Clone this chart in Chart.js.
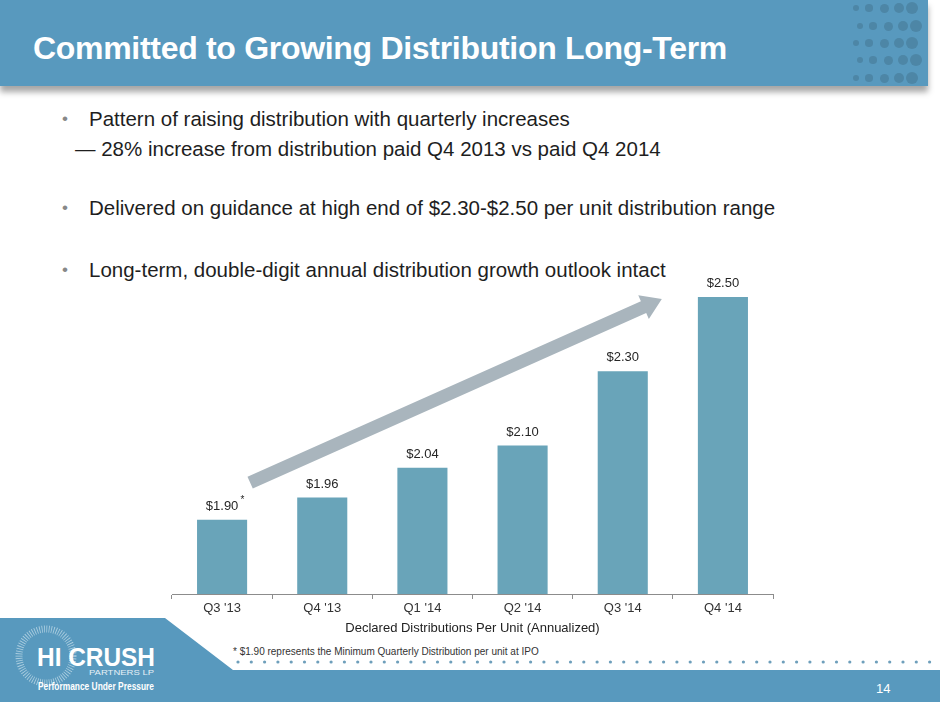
<!DOCTYPE html>
<html>
<head>
<meta charset="utf-8">
<script src="https://cdn.jsdelivr.net/npm/chart.js@4.4.1/dist/chart.umd.min.js"></script>
<style>
  html, body { margin: 0; padding: 0; }
  body { width: 940px; height: 705px; position: relative; overflow: hidden; background: #fff;
         font-family: "Liberation Sans", Arial, sans-serif; color: #222; }
  #header { position: absolute; left: 0; top: 0; width: 928px; height: 86px; background: #5899be;
            box-shadow: 0 6px 6px rgba(0,0,0,0.35); overflow: hidden; }
  #header h1 { position: absolute; left: 33px; top: 32px; margin: 0; font-size: 32px; line-height: 32px;
               font-weight: bold; color: #fff; letter-spacing: -0.3px; }
  .dot { position: absolute; border-radius: 50%; background: #4d86a6; }
  #bullets { position: absolute; left: 0; top: 0; font-size: 20.5px; color: #1e1e1e; }
  .b { position: absolute; white-space: nowrap; }
  .b .m { position: absolute; left: -27px; color: #888; font-size: 17px; top: 2px; }
  #footer { position: absolute; left: 0; top: 0; width: 940px; height: 705px; pointer-events: none; }
  #wrap { position: absolute; left: 150px; top: 240px; width: 650px; height: 400px; }
</style>
</head>
<body>
<div id="header"><h1>Committed to Growing Distribution Long-Term</h1></div>

<div id="bullets">
  <div class="b" style="left:89px; top:107px;"><span class="m">•</span>Pattern of raising distribution with quarterly increases</div>
  <div class="b" style="left:75px; top:137px;">— 28% increase from distribution paid Q4 2013 vs paid Q4 2014</div>
  <div class="b" style="left:89px; top:196px;"><span class="m">•</span>Delivered on guidance at high end of $2.30-$2.50 per unit distribution range</div>
  <div class="b" style="left:89px; top:258px;"><span class="m">•</span>Long-term, double-digit annual distribution growth outlook intact</div>
</div>

<svg id="footer" width="940" height="705">
  <polygon points="0,618 165,618 233,670 940,670 940,702 0,702" fill="#5899be"/>
  <text x="233" y="655" font-family="Liberation Sans, Arial" font-size="10" fill="#333">* $1.90 represents the Minimum Quarterly Distribution per unit at IPO</text>
  <g id="fdots"></g>
  <circle cx="46" cy="656" r="27" fill="none" stroke="#d6e8f1" stroke-width="7" stroke-dasharray="0.8 1.6" opacity="0.7"/>
  <text x="37" y="666" textLength="118" lengthAdjust="spacingAndGlyphs" font-family="Liberation Sans, Arial" font-weight="bold" font-size="26" fill="#fff">HI CRUSH</text>
  <text x="89" y="675" textLength="65" lengthAdjust="spacingAndGlyphs" font-family="Liberation Sans, Arial" font-size="7" fill="#e6f0f6">PARTNERS LP</text>
  <text x="38" y="690" textLength="116" lengthAdjust="spacingAndGlyphs" font-family="Liberation Sans Narrow, Liberation Sans, Arial" font-weight="bold" font-size="11" fill="#fff">Performance Under Pressure</text>
  <text x="876" y="693" font-family="Liberation Sans, Arial" font-size="13" fill="#fff">14</text>
</svg>

<div id="wrap"><canvas id="plots"></canvas></div>

<script>
// header dot pattern
var header = document.getElementById("header");
var dotCols = [856, 869, 884, 899, 912];
var dotRows = [8, 26, 43, 60, 78];
for (var c = 0; c < dotCols.length; c++) {
  for (var r = 0; r < dotRows.length; r++) {
    var d = document.createElement("div");
    var s = 6 + c * 1.5;
    d.className = "dot";
    d.style.width = s + "px"; d.style.height = s + "px";
    d.style.left = (dotCols[c] + (r % 2) * 4 - s / 2) + "px";
    d.style.top = (dotRows[r] - s / 2) + "px";
    header.appendChild(d);
  }
}
// footer dotted line
var fd = document.getElementById("fdots");
for (var x = 238; x < 934; x += 13.3) {
  var ci = document.createElementNS("http://www.w3.org/2000/svg", "circle");
  ci.setAttribute("cx", x); ci.setAttribute("cy", 662); ci.setAttribute("r", 1.6);
  ci.setAttribute("fill", "#6e9fbb");
  fd.appendChild(ci);
}

// chart data
var quarters = ["Q3 '13", "Q4 '13", "Q1 '14", "Q2 '14", "Q3 '14", "Q4 '14"];
var distributions = [1.90, 1.96, 2.04, 2.10, 2.30, 2.50];
var footnoted = [true, false, false, false, false, false];

// value labels above the bars
var valueLabels = {
  id: "valueLabels",
  afterDatasetsDraw: function (chart) {
    var ctx = chart.ctx;
    var meta = chart.getDatasetMeta(0);
    ctx.save();
    ctx.font = "13px 'Liberation Sans', Arial";
    ctx.fillStyle = "#262626";
    ctx.textAlign = "center";
    ctx.textBaseline = "bottom";
    meta.data.forEach(function (bar, i) {
      var txt = "$" + distributions[i].toFixed(2);
      ctx.fillText(txt, bar.x, bar.y - 7);
      if (footnoted[i]) {
        var w = ctx.measureText(txt).width;
        ctx.font = "10px 'Liberation Sans', Arial";
        ctx.fillText("*", bar.x + w / 2 + 4, bar.y - 15);
        ctx.font = "13px 'Liberation Sans', Arial";
      }
    });
    ctx.restore();
  }
};

// growth arrow, placed in data units (category index, value)
var growthArrow = {
  id: "growthArrow",
  afterDatasetsDraw: function (chart) {
    var xs = chart.scales.x, ys = chart.scales.y, ctx = chart.ctx;
    var x1 = xs.getPixelForValue(0.28), y1 = ys.getPixelForValue(2.0);
    var x2 = xs.getPixelForValue(4.39), y2 = ys.getPixelForValue(2.495);
    var ang = Math.atan2(y2 - y1, x2 - x1);
    var len = Math.hypot(x2 - x1, y2 - y1);
    var sw = 6.5, hw = 13, hl = 20;
    ctx.save();
    ctx.translate(x1, y1);
    ctx.rotate(ang);
    ctx.fillStyle = "#a9b5bd";
    ctx.beginPath();
    ctx.moveTo(0, -sw); ctx.lineTo(len - hl, -sw); ctx.lineTo(len - hl, -hw);
    ctx.lineTo(len, 0);
    ctx.lineTo(len - hl, hw); ctx.lineTo(len - hl, sw); ctx.lineTo(0, sw);
    ctx.closePath();
    ctx.fill();
    ctx.restore();
  }
};

plots = document.getElementById("plots");
new Chart(plots, {
  type: "bar",
  data: {
    labels: quarters,
    datasets: [{
      data: distributions,
      backgroundColor: "#69a4b9",
      barPercentage: 0.5,
      categoryPercentage: 1.0
    }]
  },
  options: {
    responsive: true,
    maintainAspectRatio: false,
    animation: false,
    layout: { padding: { left: 22, right: 27, top: 20, bottom: 5 } },
    plugins: { legend: { display: false }, tooltip: { enabled: false } },
    scales: {
      x: {
        grid: { drawOnChartArea: false, drawTicks: true, tickLength: 5, color: "#8c8c8c", offset: true },
        border: { color: "#8c8c8c" },
        ticks: { color: "#333", font: { family: "'Liberation Sans', Arial", size: 13, lineHeight: 1.0 }, padding: 3 },
        title: { display: true, text: "Declared Distributions Per Unit (Annualized)", color: "#222",
                 font: { family: "'Liberation Sans', Arial", size: 13, lineHeight: 1.0 }, padding: { top: 4, bottom: 0 } }
      },
      y: { display: false, min: 1.7, max: 2.6 }
    }
  },
  plugins: [valueLabels, growthArrow]
});
</script>
</body>
</html>
